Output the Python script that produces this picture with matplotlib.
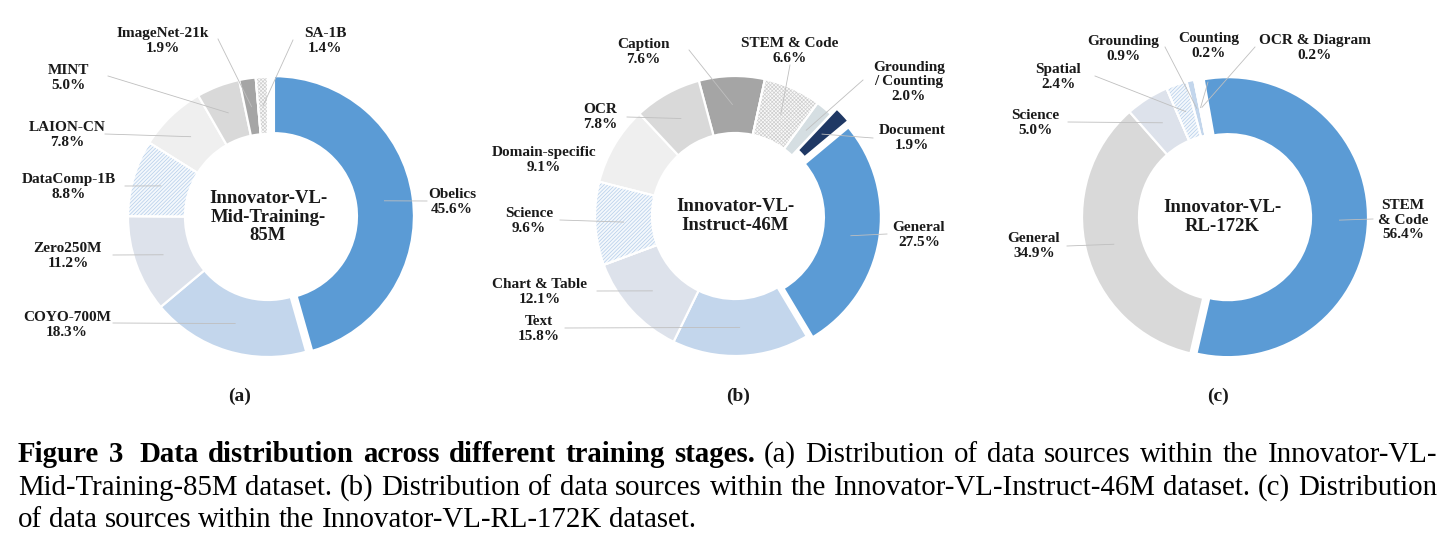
import matplotlib
matplotlib.use("Agg")
import matplotlib.pyplot as plt
from matplotlib.patches import Wedge
import numpy as np

W, H = 1453, 550

# ── Data ──────────────────────────────────────────────────────────────────────
a_labels = ["Obelics", "COYO-700M", "Zero250M", "DataComp-1B", "LAION-CN",
            "MINT", "ImageNet-21k", "SA-1B"]
a_values = [45.6, 18.3, 11.2, 8.8, 7.8, 5.0, 1.9, 1.4]

b_labels = ["Caption", "STEM & Code", "Grounding\n/ Counting", "Document",
            "General", "Text", "Chart & Table", "Science", "Domain-specific", "OCR"]
b_values = [7.6, 6.6, 2.0, 1.9, 27.5, 15.8, 12.1, 9.6, 9.1, 7.8]

c_labels = ["STEM\n& Code", "General", "Science", "Spatial", "Grounding",
            "Counting", "OCR & Diagram"]
c_values = [56.4, 34.9, 5.0, 2.4, 0.9, 0.2, 0.2]

centre_titles = ["Innovator-VL-\nMid-Training-\n85M",
                 "Innovator-VL-\nInstruct-46M",
                 "Innovator-VL-\nRL-172K"]

# ── Styles ────────────────────────────────────────────────────────────────────
BLUE = "#5B9BD5"
LBLUE = "#C3D6EC"
GBLUE = "#DDE2EB"
LGRAY = "#EFEFEF"
MGRAY = "#D9D9D9"
DGRAY = "#A5A5A5"
NAVY = "#1F3864"
HB = "hb"   # hatched blue
HG = "hg"   # hatched gray
HATCH = {HB: ("#F4F8FC", "#B4CDEA", "/////////"),
         HG: ("#FAFAFA", "#CFCFCF", "xxxxxxxxx")}

R, RW = 140, 57
FONT = "Liberation Serif"
TXT = "#1A1A1A"
LEADER = "#BFBFBF"

panels = [
    dict(values=a_values, labels=a_labels, center=(268, 217), start=90,
         colors=[BLUE, LBLUE, GBLUE, HB, LGRAY, MGRAY, DGRAY, HG],
         explode=[6, 0, 0, 0, 0, 0, 0, 0],
         text_xy=[(452, 202), (67, 325), (68, 256), (69, 187), (67, 135),
                  (68, 78), (163, 41), (325, 41)],
         lead_xy=[(427, 201), (113, 323), (113, 255), (125, 186), (105, 134),
                  (108, 76), (218, 39), (293, 40)],
         tag="(a)", tag_x=240),
    dict(values=b_values, labels=b_labels, center=(735, 216), start=105,
         colors=[DGRAY, HG, "#D5DEE2", NAVY, BLUE, LBLUE, GBLUE, HB, LGRAY, MGRAY],
         explode=[0, 0, 0, 8, 6, 0, 0, 0, 0, 0],
         text_xy=[(643, 52), (790, 51), (909, 82), (912, 138), (919, 235),
                  (539, 329), (540, 292), (529, 221), (544, 160), (600, 117)],
         lead_xy=[(689, 50), (790, 65), (863, 80), (873, 138), (887, 234),
                  (565, 328), (597, 291), (560, 220), None, (627, 117)],
         tag="(b)", tag_x=738),
    dict(values=c_values, labels=c_labels, center=(1222, 217), start=100,
         colors=[BLUE, MGRAY, GBLUE, HB, LBLUE, HG, HG],
         explode=[6, 0, 0, 0, 0, 0, 0],
         text_xy=[(1403, 220), (1034, 246), (1035, 123), (1058, 77),
                  (1123, 49), (1209, 46), (1315, 48)],
         lead_xy=[(1373, 219), (1067, 246), (1068, 122), (1095, 76),
                  (1165, 47), (1208, 82), (1255, 47)],
         tag="(c)", tag_x=1218),
]

plt.rcParams["hatch.linewidth"] = 0.5


def P(x, y):
    """pixel coords (top-left origin) -> data coords"""
    return x, H - y


def donut(ax, p, title):
    cx, cy = P(*p["center"])
    faces = [HATCH[c][0] if c in HATCH else c for c in p["colors"]]
    wedges, _ = ax.pie(p["values"], colors=faces, startangle=p["start"],
                       counterclock=False, radius=R, center=(cx, cy),
                       explode=p["explode"], frame=True,
                       wedgeprops=dict(width=RW, edgecolor="white", linewidth=1.6))

    # hatch overlay, then white outline on top again
    for w, c in zip(wedges, p["colors"]):
        if c not in HATCH:
            continue
        _, hc, pat = HATCH[c]
        ax.add_patch(Wedge(w.center, w.r, w.theta1, w.theta2, width=w.width,
                           facecolor="none", edgecolor=hc, hatch=pat,
                           linewidth=0, zorder=w.get_zorder() + 0.1))
        ax.add_patch(Wedge(w.center, w.r, w.theta1, w.theta2, width=w.width,
                           facecolor="none", edgecolor="white",
                           linewidth=1.6, zorder=w.get_zorder() + 0.2))

    # labels + leader lines to the middle of each ring segment
    for w, lab, val, txy, lxy in zip(wedges, p["labels"], p["values"],
                                     p["text_xy"], p["lead_xy"]):
        ang = np.deg2rad((w.theta1 + w.theta2) / 2)
        rm = R - RW / 2
        mx = w.center[0] + rm * np.cos(ang)
        my = w.center[1] + rm * np.sin(ang)
        if lxy is not None:
            lx, ly = P(*lxy)
            ax.plot([lx, mx], [ly, my], color=LEADER, lw=0.6, zorder=5)
        tx, ty = P(*txy)
        ax.text(tx, ty, f"{lab}\n{val:.1f}%", ha="center", va="center",
                family=FONT, weight="bold", fontsize=11, color=TXT,
                linespacing=1.15, zorder=6)

    ax.text(cx, cy, title, ha="center", va="center", family=FONT,
            weight="bold", fontsize=13.5, color=TXT, linespacing=1.15, zorder=6)
    ax.text(*P(p["tag_x"], 396), p["tag"], ha="center", va="center",
            family=FONT, weight="bold", fontsize=14, color=TXT)


fig = plt.figure(figsize=(W / 100, H / 100), dpi=100)
ax = fig.add_axes([0, 0, 1, 1])

for p, title in zip(panels, centre_titles):
    donut(ax, p, title)

ax.set_xlim(0, W)
ax.set_ylim(0, H)
ax.set_aspect("equal", adjustable="datalim")
ax.axis("off")

# ── Caption (justified like the paper) ───────────────────────────────────────
cap_lines = [
    [("Figure 3  Data distribution across different training stages.", "bold"),
     ("(a) Distribution of data sources within the Innovator-VL-", "normal")],
    [("Mid-Training-85M dataset. (b) Distribution of data sources within the "
      "Innovator-VL-Instruct-46M dataset. (c) Distribution", "normal")],
    [("of data sources within the Innovator-VL-RL-172K dataset.", "normal")],
]
cap_y = [455, 488, 520]
justify = [True, True, False]
CAP_FONT = "Liberation Serif"
x0, x_end = 18, 1437
renderer = fig.canvas.get_renderer()


def word_list(line):
    out = []
    for seg, wt in line:
        for wd in seg.split(" "):
            if wd == "":
                out[-1] = (out[-1][0] + " ", out[-1][1])  # keep double space
                continue
            out.append((wd, wt))
    return out


def measure(s, wt, size):
    t = fig.text(0, 0, s, family=CAP_FONT, weight=wt, fontsize=size)
    wdt = t.get_window_extent(renderer).width
    t.remove()
    return wdt


def space_width(size):
    return measure("a a", "normal", size) - measure("aa", "normal", size)


# largest size at which every line fits with normal word spacing
size = 18.0
fits = []
for line in cap_lines:
    words = word_list(line)
    tot = sum(measure(wd, wt, size) for wd, wt in words) + \
        space_width(size) * (len(words) - 1)
    fits.append(size * (x_end - x0) / tot)
size = min(fits)

for line, y, j in zip(cap_lines, cap_y, justify):
    words = word_list(line)
    widths = [measure(wd, wt, size) for wd, wt in words]
    gap = (x_end - x0 - sum(widths)) / (len(words) - 1) if j else space_width(size)
    x = x0
    for (wd, wt), wdt in zip(words, widths):
        fig.text(x / W, 1 - y / H, wd, family=CAP_FONT, weight=wt,
                 fontsize=size, va="center", color="black")
        x += wdt + gap

fig.savefig("out.png", dpi=100, facecolor="white")
